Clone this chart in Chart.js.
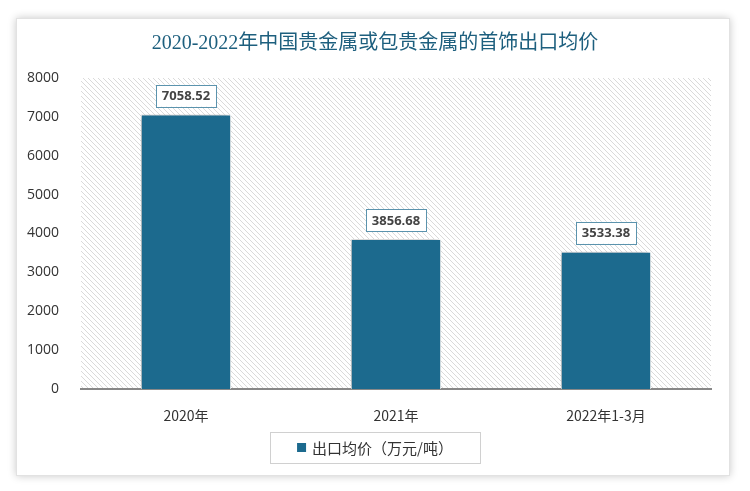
<!DOCTYPE html>
<html>
<head>
<meta charset="utf-8">
<script src="https://cdn.jsdelivr.net/npm/chart.js@4"></script>
<style>
  html, body { margin: 0; padding: 0; background: #fff; }
  #wrap { position: relative; width: 750px; height: 491px; }
  #card {
    position: absolute; left: 16px; top: 18px; width: 712px; height: 456px;
    background: #fff; border: 1px solid #e2e2e2;
    box-shadow: 0 0 8px rgba(0, 0, 0, 0.22);
  }
  #myChart { position: absolute; left: 0; top: 0; }
</style>
</head>
<body>
<div id="wrap">
  <div id="card"></div>
  <canvas id="myChart" width="750" height="491"></canvas>
</div>
<script>
const categories = ['2020年', '2021年', '2022年1-3月'];
const avgPrice = [7058.52, 3856.68, 3533.38];
const yTicks = [0, 1000, 2000, 3000, 4000, 5000, 6000, 7000, 8000];
const seriesName = '出口均价（万元/吨）';
const titleText = '2020-2022年中国贵金属或包贵金属的首饰出口均价';

const barColor = '#1c6a8e';

document.addEventListener("DOMContentLoaded", () => {
    const canvas = document.getElementById('myChart');
    const ctx = canvas.getContext('2d');

    // diagonal hatch for the plot area
    const pc = document.createElement('canvas');
    pc.width = 5; pc.height = 5;
    const p = pc.getContext('2d');
    p.strokeStyle = '#dadada';
    p.lineWidth = 1;
    p.beginPath();
    p.moveTo(0, 0); p.lineTo(5, 5);
    p.moveTo(-2.5, 2.5); p.lineTo(2.5, 7.5);
    p.moveTo(2.5, -2.5); p.lineTo(7.5, 2.5);
    p.stroke();
    const hatch = ctx.createPattern(pc, 'repeat');

    const hatchPlugin = {
        id: 'hatch',
        beforeDraw(chart) {
            const a = chart.chartArea;
            const c = chart.ctx;
            c.save();
            c.fillStyle = hatch;
            c.fillRect(a.left, a.top, a.right - a.left, a.bottom - a.top);
            c.restore();
        }
    };

    // title centred on the whole card, not the padded area
    const titlePlugin = {
        id: 'centerTitle',
        afterDraw(chart) {
            const c = chart.ctx;
            c.save();
            c.font = '20px "Liberation Serif", "Noto Sans CJK SC", serif';
            c.fillStyle = '#1d5f7e';
            c.textAlign = 'center';
            c.textBaseline = 'middle';
            c.fillText(titleText, 375, 44);
            c.restore();
        }
    };

    // shadow behind the bars
    const shadowPlugin = {
        id: 'barShadow',
        beforeDatasetDraw(chart) {
            const c = chart.ctx;
            c.save();
            c.shadowColor = 'rgba(0,0,0,0.35)';
            c.shadowBlur = 6;
            c.shadowOffsetX = -2;
            c.shadowOffsetY = 0;
        },
        afterDatasetDraw(chart) {
            chart.ctx.restore();
        }
    };

    // boxed value labels above bars
    const labelPlugin = {
        id: 'valueBoxes',
        afterDatasetsDraw(chart) {
            const c = chart.ctx;
            const meta = chart.getDatasetMeta(0);
            c.save();
            c.font = 'bold 13px "Open Sans", "DejaVu Sans", sans-serif';
            c.textAlign = 'center';
            c.textBaseline = 'middle';
            meta.data.forEach((bar, i) => {
                const txt = avgPrice[i].toFixed(2);
                const w = c.measureText(txt).width + 12;
                const h = 22;
                const x = bar.x - w / 2;
                const y = bar.y - 8 - h;
                c.fillStyle = '#fff';
                c.fillRect(x, y, w, h);
                c.strokeStyle = '#5b93ad';
                c.lineWidth = 1;
                c.strokeRect(Math.round(x) + 0.5, Math.round(y) + 0.5, Math.round(w), h);
                c.fillStyle = '#444';
                c.fillText(txt, bar.x, y + h / 2 + 1);
            });
            c.restore();
        }
    };

    // boxed legend under the axis
    const legendPlugin = {
        id: 'boxLegend',
        afterDraw(chart) {
            const c = chart.ctx;
            c.save();
            c.font = '15px "Noto Sans CJK SC", sans-serif';
            const tw = c.measureText(seriesName).width;
            const bw = 210, bh = 31;
            const cx = 375, cy = 447;
            const bx = cx - bw / 2, by = cy - bh / 2;
            c.fillStyle = '#fff';
            c.fillRect(bx, by, bw, bh);
            c.strokeStyle = '#d0d0d0';
            c.lineWidth = 1;
            c.strokeRect(Math.round(bx) + 0.5, Math.round(by) + 0.5, bw, bh);
            const total = 9 + 6 + tw;
            const sx = cx - total / 2;
            c.fillStyle = barColor;
            c.fillRect(sx, cy - 4, 9, 9);
            c.fillStyle = '#333';
            c.textBaseline = 'middle';
            c.fillText(seriesName, sx + 15, cy + 1);
            c.restore();
        }
    };

    const chart = new Chart(ctx, {
        type: 'bar',
        data: {
            labels: categories,
            datasets: [{
                label: seriesName,
                data: avgPrice,
                backgroundColor: barColor,
                borderColor: '#ffffff',
                borderWidth: 1,
                categoryPercentage: 1,
                barPercentage: 0.43
            }]
        },
        options: {
            responsive: false,
            animation: false,
            layout: {
                padding: { left: 0, right: 39, top: 78, bottom: 62 }
            },
            plugins: {
                legend: { display: false },
                tooltip: { enabled: false },
                title: { display: false }
            },
            scales: {
                x: {
                    grid: { display: false },
                    border: { display: true, color: '#888', width: 2 },
                    afterFit(scale) { scale.height = 40; },
                    ticks: {
                        color: '#333',
                        padding: 10,
                        font: { size: 14, family: '"Noto Sans CJK SC", "Open Sans", sans-serif' }
                    }
                },
                y: {
                    min: 0,
                    max: 8000,
                    afterFit(scale) { scale.width = 81; },
                    afterBuildTicks(scale) { scale.ticks = yTicks.map(v => ({ value: v })); },
                    grid: { display: false },
                    border: { display: false },
                    ticks: {
                        color: '#333',
                        padding: 14,
                        callback: v => String(v),
                        font: { size: 14, family: '"Open Sans", "DejaVu Sans", sans-serif' }
                    }
                }
            }
        },
        plugins: [hatchPlugin, shadowPlugin, labelPlugin, legendPlugin, titlePlugin]
    });
});
</script>
</body>
</html>
